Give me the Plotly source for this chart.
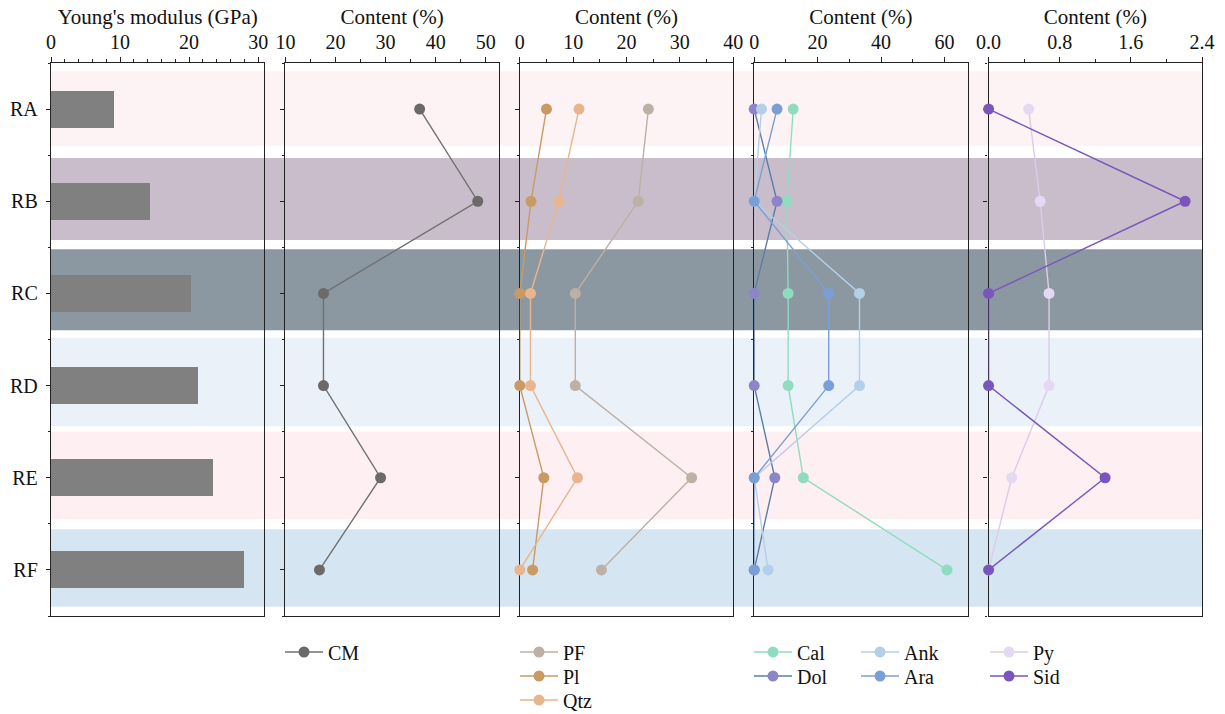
import plotly.graph_objects as go

categories = ["RA", "RB", "RC", "RD", "RE", "RF"]
young = [9.1, 14.3, 20.3, 21.3, 23.4, 27.9]
cm = [36.8, 48.4, 17.6, 17.6, 29.0, 16.8]
pf = [24.1, 22.2, 10.4, 10.4, 32.2, 15.3]
pl = [5.0, 2.1, 0.0, 0.0, 4.5, 2.4]
qtz = [11.1, 7.3, 2.0, 2.0, 10.8, 0.0]
cal = [12.3, 10.3, 10.7, 10.7, 15.5, 60.8]
dol = [0.0, 7.2, 0.0, 0.0, 6.5, 0.0]
ank = [2.3, 0.0, 33.2, 33.2, 0.0, 4.4]
ara = [7.2, 0.0, 23.5, 23.5, 0.0, 0.0]
py = [0.45, 0.58, 0.68, 0.68, 0.26, 0.0]
sid = [0.0, 2.21, 0.0, 0.0, 1.31, 0.0]

band_colors = ["#fdf3f4", "#c9bdcb", "#8c98a1", "#eaf1f9", "#fdeff2", "#d6e5f2"]
band_lo = [-0.41, 0.53, 1.52, 2.48, 3.50, 4.56]
band_hi = [0.40, 1.42, 2.40, 3.44, 4.45, 5.40]

W, H = 1225, 714
ML, MR, MT, MB = 51, 23, 63, 98
PW = W - ML - MR
PH = H - MT - MB
FONT = "Liberation Serif"

yidx = list(range(len(categories)))

fig = go.Figure()

fig.add_trace(go.Bar(y=yidx, x=young, orientation="h", width=0.4,
                     marker=dict(color="#808080", line=dict(width=0)),
                     showlegend=False, xaxis="x", yaxis="y"))

series = [
    ("CM", cm, "#707070", "#6d6969", 2),
    ("PF", pf, "#bdb0a5", "#bdb0a5", 3),
    ("Pl", pl, "#c99a64", "#c99a64", 3),
    ("Qtz", qtz, "#e8b58f", "#e8b58f", 3),
    ("Cal", cal, "#8fdcc1", "#8fdcc1", 4),
    ("Dol", dol, "#5a7ea6", "#8c86c8", 4),
    ("Ank", ank, "#b3cfe9", "#b3cfe9", 4),
    ("Ara", ara, "#7b9fd4", "#7a9fd6", 4),
    ("Py", py, "#dccbea", "#e5d8f3", 5),
    ("Sid", sid, "#7a55bb", "#7a55bb", 5),
]

leg_pos = {
    "CM": (285, 652), "PF": (520, 652), "Pl": (520, 676), "Qtz": (520, 700),
    "Cal": (754, 652), "Dol": (754, 676), "Ank": (861, 652), "Ara": (861, 676),
    "Py": (990, 652), "Sid": (990, 676),
}

layout_legends = {}
for i, (name, vals, lc, mc, panel) in enumerate(series):
    lname = "legend" if i == 0 else f"legend{i+1}"
    fig.add_trace(go.Scatter(
        x=vals, y=yidx, mode="lines+markers", name=name,
        line=dict(color=lc, width=1.4),
        marker=dict(color=mc, size=11),
        cliponaxis=False,
        xaxis=f"x{panel}", yaxis=f"y{panel}", legend=lname))
    px, py_ = leg_pos[name]
    layout_legends[lname] = dict(
        x=(px - 5 - ML) / PW, y=(MT + PH - py_) / PH,
        xanchor="left", yanchor="middle", itemwidth=38,
        bgcolor="rgba(0,0,0,0)", borderwidth=0,
        font=dict(family=FONT, size=20, color="#111"))

gap = 21.0
pw = (PW - 4 * gap) / 5
domains = [[(k * (pw + gap)) / PW, (k * (pw + gap) + pw) / PW] for k in range(5)]

xspecs = [
    dict(title="Young's modulus (GPa)", range=[0, 30.9], dtick=10, minor=2, fmt=None),
    dict(title="Content (%)", range=[10, 52.6], dtick=10, minor=5, fmt=None),
    dict(title="Content (%)", range=[0, 40], dtick=10, minor=5, fmt=None),
    dict(title="Content (%)", range=[0, 67.3], dtick=20, minor=10, fmt=None),
    dict(title="Content (%)", range=[0, 2.4], dtick=0.8, minor=0.4, fmt=".1f"),
]

axis_line = dict(showline=True, linecolor="#222", linewidth=1.4, mirror=True,
                 showgrid=False, zeroline=False, ticks="outside",
                 tickcolor="#222", tickwidth=1.2)

for k, s in enumerate(xspecs):
    key = "xaxis" if k == 0 else f"xaxis{k+1}"
    yname = "y" if k == 0 else f"y{k+1}"
    ax = dict(axis_line, domain=domains[k], range=s["range"], side="top",
              anchor=yname, tick0=0, dtick=s["dtick"], ticklen=5,
              minor=dict(dtick=s["minor"], tick0=0, ticklen=3, ticks="outside",
                         tickcolor="#222", tickwidth=1, showgrid=False),
              title=dict(text=s["title"], font=dict(family=FONT, size=21, color="#111"),
                         standoff=0),
              tickfont=dict(family=FONT, size=20, color="#111"),
              layer="below traces")
    if s["fmt"]:
        ax["tickformat"] = s["fmt"]
    fig.layout[key] = ax

    ykey = "yaxis" if k == 0 else f"yaxis{k+1}"
    xname = "x" if k == 0 else f"x{k+1}"
    yax = dict(axis_line, domain=[0, 1], range=[len(categories) - 0.5, -0.5],
               anchor=xname, tickmode="array", tickvals=yidx, ticktext=categories,
               ticklen=4, ticklabelstandoff=4,
               minor=dict(tickvals=[i + 0.5 for i in range(-1, len(categories))],
                          ticklen=2, ticks="outside", tickcolor="#222", tickwidth=1),
               showticklabels=(k == 0),
               tickfont=dict(family=FONT, size=20, color="#111"),
               layer="below traces")
    if k > 0:
        yax["matches"] = "y"
    fig.layout[ykey] = yax

shapes = []
for lo, hi, c in zip(band_lo, band_hi, band_colors):
    shapes.append(dict(type="rect", xref="paper", yref="y", x0=0, x1=1, y0=lo, y1=hi,
                       fillcolor=c, line=dict(width=0), layer="below"))

fig.update_layout(
    width=W, height=H,
    margin=dict(l=ML, r=MR, t=MT, b=MB, autoexpand=False),
    paper_bgcolor="white", plot_bgcolor="rgba(0,0,0,0)",
    font=dict(family=FONT, size=20, color="#111"),
    shapes=shapes, bargap=0,
    **layout_legends,
)

fig.write_html("out.html")
